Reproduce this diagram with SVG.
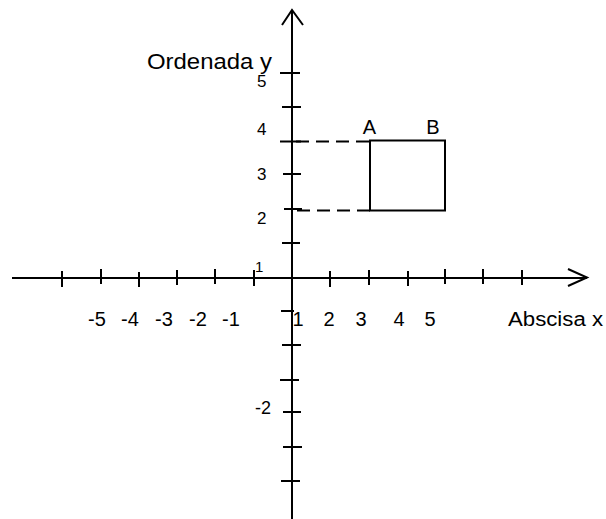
<svg xmlns="http://www.w3.org/2000/svg" width="606" height="519" viewBox="0 0 606 519">
<style>
.ax{stroke:#000;stroke-width:2;fill:none}
.tk{stroke:#000;stroke-width:2}
.ds{stroke:#000;stroke-width:2;stroke-dasharray:13 7;fill:none}
.rc{stroke:#000;stroke-width:2;fill:none}
text{font-family:"Liberation Sans",Arial,sans-serif;fill:#000}
.lb{font-size:20px}
.sm{font-size:17px}
</style>
<rect width="606" height="519" fill="#fff"/>
<g id="connectors">
<g id="y-axis">
<line class="ax" x1="292" y1="10" x2="292" y2="519"/>
<polyline class="ax" points="282,25 292,10 303,25"/>
</g>
<g id="x-axis">
<line class="ax" x1="12" y1="278" x2="587" y2="278"/>
<polyline class="ax" points="568,269 587,277.5 568,286"/>
</g>
<g id="x-ticks">
<line class="tk" x1="62" y1="271" x2="62" y2="287"/>
<line class="tk" x1="101" y1="269" x2="101" y2="284"/>
<line class="tk" x1="139" y1="272" x2="139" y2="287"/>
<line class="tk" x1="177" y1="270" x2="177" y2="285"/>
<line class="tk" x1="215" y1="269" x2="215" y2="284"/>
<line class="tk" x1="254" y1="270" x2="254" y2="286"/>
<line class="tk" x1="330" y1="271" x2="330" y2="287"/>
<line class="tk" x1="369" y1="270" x2="369" y2="285"/>
<line class="tk" x1="408" y1="271" x2="408" y2="286"/>
<line class="tk" x1="445" y1="269" x2="445" y2="284"/>
<line class="tk" x1="483" y1="269" x2="483" y2="284"/>
<line class="tk" x1="522" y1="270" x2="522" y2="285"/>
</g>
<g id="y-ticks">
<line class="tk" x1="280" y1="73" x2="300" y2="73"/>
<line class="tk" x1="282" y1="107" x2="301" y2="107"/>
<line class="tk" x1="280" y1="141.5" x2="301" y2="141.5"/>
<line class="tk" x1="283" y1="174" x2="301" y2="174"/>
<line class="tk" x1="284" y1="209" x2="302" y2="209"/>
<line class="tk" x1="282" y1="243" x2="300" y2="243"/>
<line class="tk" x1="281" y1="311" x2="294" y2="311"/>
<line class="tk" x1="282" y1="345" x2="301" y2="345"/>
<line class="tk" x1="280" y1="380" x2="299" y2="380"/>
<line class="tk" x1="283" y1="412" x2="301" y2="412"/>
<line class="tk" x1="283" y1="447" x2="302" y2="447"/>
<line class="tk" x1="281" y1="481" x2="300" y2="481"/>
</g>
<g id="dashes">
<line class="ds" x1="296" y1="141.5" x2="370" y2="141.5"/>
<line class="ds" x1="297" y1="210.5" x2="370" y2="210.5"/>
</g>
</g>
<g id="rectangle">
<rect class="rc" x="370" y="140.5" width="75" height="70"/>
<text class="lb" x="369.5" y="134" text-anchor="middle">A</text>
<text class="lb" x="433" y="134" text-anchor="middle">B</text>
</g>
<g id="y-labels">
<text x="147" y="69" font-size="22" textLength="125" lengthAdjust="spacingAndGlyphs">Ordenada y</text>
<text class="sm" x="257" y="87">5</text>
<text class="sm" x="257" y="135">4</text>
<text class="sm" x="257" y="180">3</text>
<text class="sm" x="257" y="224">2</text>
<text x="255" y="272" font-size="15">1</text>
<text x="255" y="414" font-size="18">-2</text>
</g>
<g id="x-labels" class="lb">
<text x="97" y="326" text-anchor="middle">-5</text>
<text x="130" y="326" text-anchor="middle">-4</text>
<text x="164" y="326" text-anchor="middle">-3</text>
<text x="198" y="326" text-anchor="middle">-2</text>
<text x="231" y="326" text-anchor="middle">-1</text>
<text x="298" y="326" text-anchor="middle">1</text>
<text x="329" y="326" text-anchor="middle">2</text>
<text x="361" y="326" text-anchor="middle">3</text>
<text x="399" y="326" text-anchor="middle">4</text>
<text x="430" y="326" text-anchor="middle">5</text>
<text x="508" y="326" textLength="95" lengthAdjust="spacingAndGlyphs">Abscisa x</text>
</g>
</svg>
